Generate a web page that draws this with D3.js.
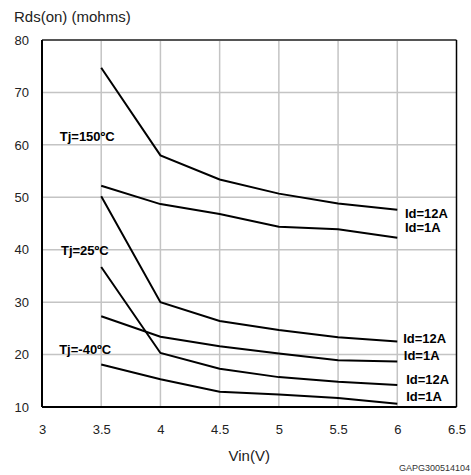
<!DOCTYPE html>
<html>
<head>
<meta charset="utf-8">
<script src="https://cdn.jsdelivr.net/npm/d3@7"></script>
<style>
  body { margin: 0; background: #fff; }
  svg { font-family: Arial, "Liberation Sans", sans-serif; }
  .grid line { stroke: #c4c4c4; stroke-width: 1.5; }
  .curve { fill: none; stroke: #000; stroke-width: 2; }
  .lbl { font-size: 13px; font-weight: bold; fill: #000; }
</style>
</head>
<body>
<div id="chart"></div>
<script>
// Vin (V) points
const vin = [3.5, 4, 4.5, 5, 5.5, 6];
const xTicks = [3, 3.5, 4, 4.5, 5, 5.5, 6, 6.5];
const yTicks = [10, 20, 30, 40, 50, 60, 70, 80];

// Rds(on) in mohms
const t150_12A = [74.7, 58.0, 53.4, 50.7, 48.8, 47.6];
const t150_1A = [52.2, 48.7, 46.8, 44.4, 43.9, 42.3];
const t25_12A = [50.2, 30.0, 26.4, 24.7, 23.3, 22.5];
const t25_1A = [27.3, 23.4, 21.6, 20.2, 18.9, 18.7];
const tm40_12A = [36.7, 20.3, 17.3, 15.7, 14.8, 14.2];
const tm40_1A = [18.1, 15.3, 12.9, 12.4, 11.7, 10.6];

const series = [t150_12A, t150_1A, t25_12A, t25_1A, tm40_12A, tm40_1A];

const width = 471, height = 475;
const margin = { top: 40, right: 14.5, bottom: 68, left: 42 };

const svg = d3.select("#chart").append("svg")
  .attr("width", width)
  .attr("height", height);

const x = d3.scaleLinear().domain([3, 6.5]).range([margin.left, width - margin.right]);
const y = d3.scaleLinear().domain([10, 80]).range([height - margin.bottom, margin.top]);

// grid
const grid = svg.append("g").attr("class", "grid");
grid.selectAll(".vx").data(xTicks.slice(1, -1)).join("line")
  .attr("x1", d => x(d)).attr("x2", d => x(d))
  .attr("y1", y(80)).attr("y2", y(10));
grid.selectAll(".hy").data(yTicks.slice(1, -1)).join("line")
  .attr("x1", x(3)).attr("x2", x(6.5))
  .attr("y1", d => y(d)).attr("y2", d => y(d));

// frame
svg.append("line").attr("x1", x(3)).attr("x2", x(6.5)).attr("y1", y(80)).attr("y2", y(80))
  .attr("stroke", "#555").attr("stroke-width", 2);
svg.append("line").attr("x1", x(6.5)).attr("x2", x(6.5)).attr("y1", y(80)).attr("y2", y(10))
  .attr("stroke", "#000").attr("stroke-width", 1.5);
svg.append("line").attr("x1", x(3)).attr("x2", x(3)).attr("y1", y(80)).attr("y2", y(10))
  .attr("stroke", "#000").attr("stroke-width", 2);
svg.append("line").attr("x1", x(3)).attr("x2", x(6.5)).attr("y1", y(10)).attr("y2", y(10))
  .attr("stroke", "#000").attr("stroke-width", 2);

// axes (labels only)
const xAxis = svg.append("g")
  .attr("transform", `translate(0,${y(10)})`)
  .call(d3.axisBottom(x).tickValues(xTicks).tickSize(0).tickPadding(18).tickFormat(d3.format("")));
const yAxis = svg.append("g")
  .attr("transform", `translate(${x(3)},0)`)
  .call(d3.axisLeft(y).tickValues(yTicks).tickSize(0).tickPadding(13));
[xAxis, yAxis].forEach(a => {
  a.select(".domain").remove();
  a.selectAll("text").attr("font-size", 13).attr("font-family", "Arial, 'Liberation Sans', sans-serif").attr("fill", "#222");
});

// curves
const line = d3.line().x((d, i) => x(vin[i])).y(d => y(d));
svg.selectAll(".curve").data(series).join("path")
  .attr("class", "curve")
  .attr("d", d => line(d));

// temperature labels
const tLabels = [
  { text: "Tj=150ºC", vx: 3.15, vy: 60.8 },
  { text: "Tj=25ºC", vx: 3.16, vy: 39.0 },
  { text: "Tj=-40ºC", vx: 3.145, vy: 20.2 }
];
svg.selectAll(".tl").data(tLabels).join("text")
  .attr("class", "lbl")
  .attr("x", d => x(d.vx)).attr("y", d => y(d.vy))
  .text(d => d.text);

// current labels
const idLabels = [
  { text: "Id=12A", vx: 6.065, vy: 46.0 },
  { text: "Id=1A", vx: 6.065, vy: 43.3 },
  { text: "Id=12A", vx: 6.05, vy: 22.3 },
  { text: "Id=1A", vx: 6.055, vy: 19.0 },
  { text: "Id=12A", vx: 6.075, vy: 14.4 },
  { text: "Id=1A", vx: 6.075, vy: 11.2 }
];
svg.selectAll(".il").data(idLabels).join("text")
  .attr("class", "lbl")
  .attr("x", d => x(d.vx)).attr("y", d => y(d.vy))
  .text(d => d.text);

// titles
svg.append("text").attr("x", 14).attr("y", 22)
  .attr("font-size", 15).attr("fill", "#222")
  .text("Rds(on) (mohms)");
svg.append("text").attr("x", x(4.75)).attr("y", 461)
  .attr("text-anchor", "middle").attr("font-size", 15).attr("fill", "#222")
  .text("Vin(V)");
svg.append("text").attr("x", 470).attr("y", 471)
  .attr("text-anchor", "end").attr("font-size", 9).attr("fill", "#333")
  .text("GAPG300514104");
</script>
</body>
</html>
